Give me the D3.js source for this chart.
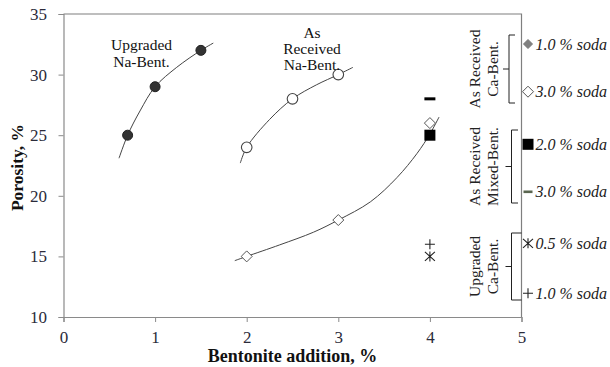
<!DOCTYPE html>
<html><head><meta charset="utf-8">
<script src="https://cdn.jsdelivr.net/npm/d3@7"></script>
<style>
html,body{margin:0;padding:0;background:#fff;}
svg text{font-family:"Liberation Serif","Times New Roman",serif;}
</style>
</head><body>
<svg id="c" width="610" height="367"></svg>
<script>
// ---- data ----
const xTicks = [0, 1, 2, 3, 4, 5];
const yTicks = [10, 15, 20, 25, 30, 35];

const upgradedNaX = [0.7, 1.0, 1.5];
const upgradedNaY = [25, 29, 32];
const upgradedNaTrendX = [0.606, 0.7, 0.835, 1.0, 1.236, 1.5, 1.635];
const upgradedNaTrendY = [23.1, 25.0, 27.0, 29.0, 30.6, 32.0, 32.6];

const receivedNaX = [2.0, 2.5, 3.0];
const receivedNaY = [24, 28, 30];
const receivedNaTrendX = [1.93, 2.0, 2.25, 2.5, 2.76, 3.0, 3.16];
const receivedNaTrendY = [22.7, 24.0, 26.3, 28.0, 29.15, 30.0, 30.6];

const caBent3X = [2, 3, 4];
const caBent3Y = [15, 18, 26];
const caBent3TrendX = [1.87, 2.0, 2.36, 2.73, 3.0, 3.35, 3.64, 3.86, 4.0, 4.1];
const caBent3TrendY = [14.65, 15.0, 15.95, 17.0, 18.0, 19.5, 21.5, 23.5, 25.1, 26.5];

const mixed2X = [4]; const mixed2Y = [25];
const mixed3X = [4]; const mixed3Y = [28];
const upCa05X = [4]; const upCa05Y = [15];
const upCa10X = [4]; const upCa10Y = [16];

const legendGroups = [
  {lines: ["As Received", "Ca-Bent."], items: ["1.0 % soda", "3.0 % soda"], markers: ["diamondFill", "diamondOpen"]},
  {lines: ["As Received", "Mixed-Bent."], items: ["2.0 % soda", "3.0 % soda"], markers: ["square", "dash"]},
  {lines: ["Upgraded", "Ca-Bent."], items: ["0.5 % soda", "1.0 % soda"], markers: ["asterisk", "plus"]}
];

// ---- layout ----
const svg = d3.select("#c");
const L = 63.5, R = 521.5, T = 14, B = 317;
const x = d3.scaleLinear().domain([0, 5]).range([L, R]);
const y = d3.scaleLinear().domain([10, 35]).range([B, T]);
const axisCol = "#8a8a8a";

// frame (top/right)
svg.append("path").attr("d", `M${L},${T}H${R}V${B}`).attr("fill","none").attr("stroke","#7f7f7f").attr("stroke-width",1.2);

// axes
const xa = svg.append("g").attr("transform", `translate(0,${B})`)
  .call(d3.axisBottom(x).tickValues(xTicks).tickSize(5).tickPadding(5).tickFormat(d3.format("d")));
const ya = svg.append("g").attr("transform", `translate(${L},0)`)
  .call(d3.axisLeft(y).tickValues(yTicks).tickSize(5).tickPadding(11.5).tickFormat(d3.format("d")));
[xa, ya].forEach(g => {
  g.select(".domain").attr("stroke", axisCol).attr("stroke-width",1.2);
  g.selectAll(".tick line").attr("stroke", axisCol);
  g.selectAll(".tick text").attr("fill","#2b2b3a").style("font-size","17px").style("font-family","'Liberation Serif',serif");
});
xa.selectAll(".tick text").attr("dy","0.95em");

// axis titles
svg.append("text").attr("x", 292.5).attr("y", 361.5).attr("text-anchor","middle")
  .style("font-size","18px").style("font-weight","bold").attr("fill","#111").text("Bentonite addition, %");
svg.append("text").attr("transform","translate(23,167.5) rotate(-90)").attr("text-anchor","middle")
  .style("font-size","17.5px").style("font-weight","bold").attr("fill","#111").text("Porosity, %");

// trend lines
const line = d3.line().x(d => x(d[0])).y(d => y(d[1])).curve(d3.curveCatmullRom.alpha(0.5));
function trend(xs, ys) {
  svg.append("path").attr("d", line(xs.map((v,i)=>[v, ys[i]]))).attr("fill","none").attr("stroke","#444").attr("stroke-width",1);
}
trend(upgradedNaTrendX, upgradedNaTrendY);
trend(receivedNaTrendX, receivedNaTrendY);
trend(caBent3TrendX, caBent3TrendY);

// marker drawing
function marker(g, type, cx, cy) {
  if (type === "circleFill") g.append("circle").attr("cx",cx).attr("cy",cy).attr("r",5).attr("fill","#333").attr("stroke","#222");
  else if (type === "circleOpen") g.append("circle").attr("cx",cx).attr("cy",cy).attr("r",5.3).attr("fill","#fff").attr("stroke","#444").attr("stroke-width",1.1);
  else if (type === "diamondOpen" || type === "diamondFill") {
    const s = type === "diamondOpen" ? 5.5 : 4.5;
    g.append("path").attr("d", `M${cx},${cy-s}L${cx+s},${cy}L${cx},${cy+s}L${cx-s},${cy}Z`)
      .attr("fill", type === "diamondFill" ? "#808080" : "#fff").attr("stroke", type === "diamondFill" ? "#777" : "#555").attr("stroke-width",1);
  }
  else if (type === "square") g.append("rect").attr("x",cx-5.5).attr("y",cy-5.5).attr("width",11).attr("height",11).attr("fill","#000");
  else if (type === "dash") g.append("rect").attr("x",cx-5.5).attr("y",cy-1.5).attr("width",11).attr("height",3).attr("fill","#000");
  else if (type === "dashLeg") g.append("rect").attr("x",cx-4.5).attr("y",cy-1.2).attr("width",9).attr("height",2.6).attr("fill","#5a6650");
  else if (type === "plus") g.append("path").attr("d",`M${cx-5},${cy}H${cx+5}M${cx},${cy-5}V${cy+5}`).attr("stroke","#222").attr("stroke-width",1.1);
  else if (type === "asterisk") g.append("path").attr("d",`M${cx-5},${cy-4.5}L${cx+5},${cy+4.5}M${cx-5},${cy+4.5}L${cx+5},${cy-4.5}M${cx},${cy-5}V${cy+5}`).attr("stroke","#222").attr("stroke-width",1.1);
}
function series(xs, ys, type) {
  const g = svg.append("g");
  xs.forEach((v,i) => marker(g, type, x(v), y(ys[i])));
}
series(upgradedNaX, upgradedNaY, "circleFill");
series(receivedNaX, receivedNaY, "circleOpen");
series(caBent3X, caBent3Y, "diamondOpen");
series(mixed2X, mixed2Y, "square");
series(mixed3X, mixed3Y, "dash");
series(upCa05X, upCa05Y, "asterisk");
series(upCa10X, upCa10Y, "plus");

// annotations
function label(lines, cx, ys) {
  lines.forEach((t,i) => svg.append("text").attr("x",cx).attr("y",ys[i]).attr("text-anchor","middle")
    .attr("dominant-baseline","central").style("font-size","15.5px").attr("fill","#111").text(t));
}
label(["Upgraded", "Na-Bent."], 141.5, [44.5, 61]);
label(["As", "Received", "Na-Bent."], 312, [32, 48, 64]);

// legend
const legTop = [35, 130, 233], legBot = [103, 203, 300];
const braceX = [509, 511.5, 511.5], braceR = [515, 518, 521.5];
const itemY = [[44, 91.7], [144.3, 191.7], [243.3, 293.3]];
legendGroups.forEach((gr, k) => {
  const mid = (legTop[k] + legBot[k]) / 2;
  const bx = braceX[k];
  svg.append("path").attr("d",
    `M${braceR[k]},${legTop[k]}H${bx}V${legBot[k]}H${braceR[k]}M${bx},${mid}H${bx-6}`)
    .attr("fill","none").attr("stroke","#222").attr("stroke-width",1);
  gr.lines.forEach((t,i) => {
    svg.append("text").attr("transform", `translate(${474 + i*18},${mid}) rotate(-90)`)
      .attr("text-anchor","middle").attr("dominant-baseline","central")
      .style("font-size","15.5px").attr("fill","#222").text(t);
  });
  gr.items.forEach((t,i) => {
    const yy = itemY[k][i];
    const mk = gr.markers[i] === "dash" ? "dashLeg" : gr.markers[i];
    marker(svg, mk, 528, yy);
    svg.append("text").attr("x",535.5).attr("y",yy).attr("dominant-baseline","central")
      .style("font-size","16px").style("font-style","italic").attr("fill","#222").text(t);
  });
});
</script>
</body></html>
